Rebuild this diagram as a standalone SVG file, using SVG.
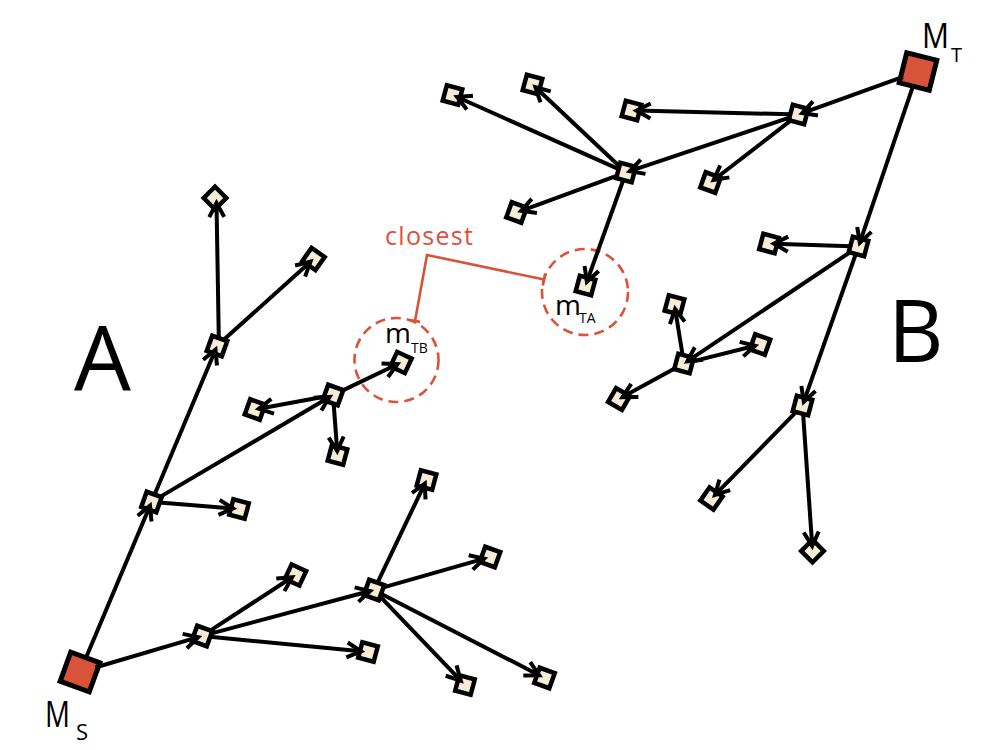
<svg xmlns="http://www.w3.org/2000/svg" width="1000" height="750" viewBox="0 0 1000 750">
<style>
.n{fill:#f3ecd6;stroke:#000;stroke-width:4.5}
.big{fill:#d9533a;stroke:#000;stroke-width:5}
.e{stroke:#000;stroke-width:4;fill:none;marker-end:url(#ah)}
.lbl{font-family:"Open Sans","Noto Sans",sans-serif;fill:#000}
.red{stroke:#d9533a;stroke-width:2.6;fill:none}
.dash{stroke:#d9533a;stroke-width:2.6;fill:none;stroke-dasharray:10 6}
</style>
<defs>
<marker id="ah" viewBox="-18 -11 22 22" refX="0" refY="0" markerWidth="22" markerHeight="22" markerUnits="userSpaceOnUse" orient="auto" overflow="visible">
<path d="M-14,-7.5 L0,0 L-14,7.5" fill="none" stroke="#000" stroke-width="4" stroke-linejoin="miter"/>
</marker>
</defs>
<rect width="1000" height="750" fill="#fff"/>

<g id="highlight">
<circle class="dash" cx="396.5" cy="360" r="42"/>
<circle class="dash" cx="585" cy="292" r="43"/>
<polyline class="red" points="415,321 427,255 544,279.5"/>
<line class="red" x1="410" y1="320.1" x2="420" y2="321.9"/>
<line class="red" x1="545.2" y1="273.6" x2="542.8" y2="285.4"/>
<text x="385" y="245" font-family="Open Sans, Noto Sans, sans-serif" font-size="25" fill="#d9533a" textLength="88">closest</text>
</g>

<g id="nodes">
<g id="MS"><rect class="big" x="-15.5" y="-15.5" width="31" height="31" transform="translate(80,672) rotate(20)"/></g>
<g id="MT"><rect class="big" x="-15.5" y="-15.5" width="31" height="31" transform="translate(918,71.5) rotate(14)"/></g>
<g id="N1"><rect class="n" x="-8" y="-8" width="16" height="16" transform="translate(151.5,502) rotate(20)"/></g>
<g id="N2"><rect class="n" x="-8" y="-8" width="16" height="16" transform="translate(217,346) rotate(20)"/></g>
<g id="N3"><rect class="n" x="-8" y="-8" width="16" height="16" transform="translate(215,198) rotate(45)"/></g>
<g id="N4"><rect class="n" x="-8" y="-8" width="16" height="16" transform="translate(313.5,259) rotate(35)"/></g>
<g id="N5"><rect class="n" x="-8" y="-8" width="16" height="16" transform="translate(333,395) rotate(20)"/></g>
<g id="N6"><rect class="n" x="-8" y="-8" width="16" height="16" transform="translate(255,409.5) rotate(20)"/></g>
<g id="N7"><rect class="n" x="-8" y="-8" width="16" height="16" transform="translate(337.5,455) rotate(15)"/></g>
<g id="N8"><rect class="n" x="-8" y="-8" width="16" height="16" transform="translate(401,362.5) rotate(25)"/></g>
<g id="N9"><rect class="n" x="-8" y="-8" width="16" height="16" transform="translate(239,509) rotate(15)"/></g>
<g id="N10"><rect class="n" x="-8" y="-8" width="16" height="16" transform="translate(202,636) rotate(20)"/></g>
<g id="N11"><rect class="n" x="-8" y="-8" width="16" height="16" transform="translate(295.5,575) rotate(25)"/></g>
<g id="N12"><rect class="n" x="-8" y="-8" width="16" height="16" transform="translate(368,652) rotate(15)"/></g>
<g id="N13"><rect class="n" x="-8" y="-8" width="16" height="16" transform="translate(374,590) rotate(20)"/></g>
<g id="N14"><rect class="n" x="-8" y="-8" width="16" height="16" transform="translate(426.5,480) rotate(15)"/></g>
<g id="N15"><rect class="n" x="-8" y="-8" width="16" height="16" transform="translate(490,557) rotate(20)"/></g>
<g id="N16"><rect class="n" x="-8" y="-8" width="16" height="16" transform="translate(465,685) rotate(15)"/></g>
<g id="N17"><rect class="n" x="-8" y="-8" width="16" height="16" transform="translate(544.5,678) rotate(20)"/></g>
<g id="P1"><rect class="n" x="-8" y="-8" width="16" height="16" transform="translate(798.5,114.5) rotate(15)"/></g>
<g id="P2"><rect class="n" x="-8" y="-8" width="16" height="16" transform="translate(631.5,110.5) rotate(15)"/></g>
<g id="P3"><rect class="n" x="-8" y="-8" width="16" height="16" transform="translate(710.5,182.5) rotate(20)"/></g>
<g id="P4"><rect class="n" x="-8" y="-8" width="16" height="16" transform="translate(626,172.5) rotate(15)"/></g>
<g id="P5"><rect class="n" x="-8" y="-8" width="16" height="16" transform="translate(452.5,95) rotate(15)"/></g>
<g id="P6"><rect class="n" x="-8" y="-8" width="16" height="16" transform="translate(532.5,84.5) rotate(15)"/></g>
<g id="P7"><rect class="n" x="-8" y="-8" width="16" height="16" transform="translate(516.5,212.5) rotate(20)"/></g>
<g id="P8"><rect class="n" x="-8" y="-8" width="16" height="16" transform="translate(585.5,285.5) rotate(15)"/></g>
<g id="P9"><rect class="n" x="-8" y="-8" width="16" height="16" transform="translate(858.5,246.5) rotate(15)"/></g>
<g id="P10"><rect class="n" x="-8" y="-8" width="16" height="16" transform="translate(769,243.5) rotate(15)"/></g>
<g id="P11"><rect class="n" x="-8" y="-8" width="16" height="16" transform="translate(684,363.5) rotate(15)"/></g>
<g id="P12"><rect class="n" x="-8" y="-8" width="16" height="16" transform="translate(674.5,305) rotate(15)"/></g>
<g id="P13"><rect class="n" x="-8" y="-8" width="16" height="16" transform="translate(760,344.5) rotate(20)"/></g>
<g id="P14"><rect class="n" x="-8" y="-8" width="16" height="16" transform="translate(619,399) rotate(30)"/></g>
<g id="P15"><rect class="n" x="-8" y="-8" width="16" height="16" transform="translate(802.5,405.5) rotate(15)"/></g>
<g id="P16"><rect class="n" x="-8" y="-8" width="16" height="16" transform="translate(711.5,498.5) rotate(35)"/></g>
<g id="P17"><rect class="n" x="-8" y="-8" width="16" height="16" transform="translate(812.5,551) rotate(45)"/></g>
</g>

<g id="connectors">
<line class="e" x1="86.2" y1="657.2" x2="150" y2="505.7"/>
<line class="e" x1="154.6" y1="494.6" x2="215.5" y2="349.7"/>
<line class="e" x1="218.8" y1="338" x2="216.5" y2="203"/>
<line class="e" x1="222.9" y1="340.6" x2="310.5" y2="261.7"/>
<line class="e" x1="158.4" y1="497.9" x2="329.6" y2="397"/>
<line class="e" x1="325.1" y1="396.5" x2="258.9" y2="408.8"/>
<line class="e" x1="333.6" y1="403" x2="337.2" y2="451"/>
<line class="e" x1="340.2" y1="391.6" x2="397.4" y2="364.2"/>
<line class="e" x1="159.5" y1="502.6" x2="233" y2="508.5"/>
<line class="e" x1="95.3" y1="667.5" x2="198.2" y2="637.1"/>
<line class="e" x1="208.7" y1="631.6" x2="292.1" y2="577.2"/>
<line class="e" x1="210" y1="636.8" x2="361" y2="651.3"/>
<line class="e" x1="209.7" y1="633.9" x2="370.1" y2="591"/>
<line class="e" x1="377.4" y1="582.8" x2="424.8" y2="483.6"/>
<line class="e" x1="381.7" y1="587.8" x2="484.2" y2="558.6"/>
<line class="e" x1="379.5" y1="595.8" x2="460.8" y2="680.7"/>
<line class="e" x1="381.1" y1="593.7" x2="539.2" y2="675.2"/>
<line class="e" x1="903" y1="76.9" x2="802.3" y2="113.1"/>
<line class="e" x1="790.5" y1="114.3" x2="636.5" y2="110.6"/>
<line class="e" x1="792.2" y1="119.4" x2="713.7" y2="180"/>
<line class="e" x1="790.9" y1="117.1" x2="629.8" y2="171.2"/>
<line class="e" x1="618.7" y1="169.2" x2="457.1" y2="97"/>
<line class="e" x1="620.2" y1="167" x2="535.4" y2="87.2"/>
<line class="e" x1="618.5" y1="175.2" x2="521.2" y2="210.8"/>
<line class="e" x1="623.3" y1="180" x2="586.9" y2="281.7"/>
<line class="e" x1="912.8" y1="86.7" x2="859.8" y2="242.7"/>
<line class="e" x1="850.5" y1="246.2" x2="774" y2="243.7"/>
<line class="e" x1="851.9" y1="251" x2="687.3" y2="361.3"/>
<line class="e" x1="855.8" y1="254" x2="803.8" y2="401.7"/>
<line class="e" x1="682.7" y1="355.6" x2="675.1" y2="309"/>
<line class="e" x1="691.8" y1="361.6" x2="755.1" y2="345.7"/>
<line class="e" x1="677" y1="367.3" x2="622.5" y2="397.1"/>
<line class="e" x1="796.9" y1="411.2" x2="715" y2="494.9"/>
<line class="e" x1="803.1" y1="413.5" x2="812.2" y2="546"/>
</g>

<g id="labels">
<text class="lbl" x="74" y="390" font-size="90">A</text>
<text class="lbl" x="888" y="362" font-size="86">B</text>
<text class="lbl" x="45" y="727" font-size="36" textLength="25" lengthAdjust="spacingAndGlyphs">M</text>
<text class="lbl" x="76" y="740" font-size="22">S</text>
<text class="lbl" x="922" y="48" font-size="34" textLength="27" lengthAdjust="spacingAndGlyphs">M</text>
<text class="lbl" x="951" y="62" font-size="20">T</text>
<text class="lbl" x="385" y="343" font-size="28">m</text>
<text class="lbl" x="411" y="353" font-size="14">TB</text>
<text class="lbl" x="555" y="315" font-size="28">m</text>
<text class="lbl" x="579" y="323" font-size="14">TA</text>
</g>
</svg>
